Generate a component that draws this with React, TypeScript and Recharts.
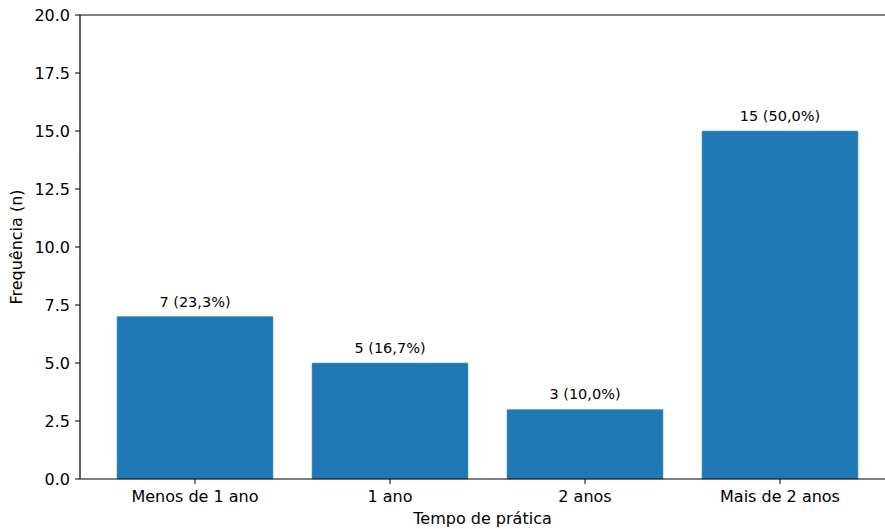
import { BarChart, Bar, XAxis, YAxis, LabelList, ReferenceLine } from 'recharts';

const categories = ['Menos de 1 ano', '1 ano', '2 anos', 'Mais de 2 anos'];
const counts = [7, 5, 3, 15];
const percents = [23.3, 16.7, 10.0, 50.0];
const yTicks = [0, 2.5, 5, 7.5, 10, 12.5, 15, 17.5, 20];

const data = categories.map((name, i) => ({
  name,
  value: counts[i],
  label: `${counts[i]} (${percents[i].toFixed(1).replace('.', ',')}%)`,
}));

const FONT = 'DejaVu Sans, sans-serif';

export default function App() {
  return (
    <div style={{ position: 'absolute', left: 0, top: 0, width: 885, height: 529, background: '#fff', fontFamily: FONT }}>
      <BarChart
        width={885}
        height={529}
        data={data}
        margin={{ top: 15, right: 0, bottom: 0, left: 0 }}
        barCategoryGap="10%"
      >
        <XAxis
          dataKey="name"
          height={50}
          padding={{ left: 17.5, right: 7.5 }}
          axisLine={{ stroke: '#000', strokeWidth: 1.2 }}
          tickLine={{ stroke: '#000' }}
          tickSize={5}
          tick={{ fill: '#000', fontSize: 16, fontFamily: FONT }}
          tickMargin={7}
          label={{ value: 'Tempo de prática', position: 'insideBottom', offset: 5, fill: '#000', fontSize: 16, fontFamily: FONT }}
        />
        <YAxis
          width={80}
          domain={[0, 20]}
          ticks={yTicks}
          tickFormatter={(v: number) => v.toFixed(1)}
          axisLine={{ stroke: '#000', strokeWidth: 1.2 }}
          tickLine={{ stroke: '#000' }}
          tickSize={5}
          tick={{ fill: '#000', fontSize: 16, fontFamily: FONT }}
          tickMargin={5}
          label={{ value: 'Frequência (n)', angle: -90, position: 'insideLeft', offset: 16, fill: '#000', fontSize: 16, fontFamily: FONT, style: { textAnchor: 'middle' } }}
        />
        <ReferenceLine y={20} stroke="#000" strokeWidth={1.2} />
        <Bar dataKey="value" fill="#1f77b4" stroke="#5a9bcc" strokeWidth={0.6} isAnimationActive={false}>
          <LabelList dataKey="label" position="top" offset={10} fill="#000" fontSize={14.5} fontFamily={FONT} />
        </Bar>
      </BarChart>
    </div>
  );
}
